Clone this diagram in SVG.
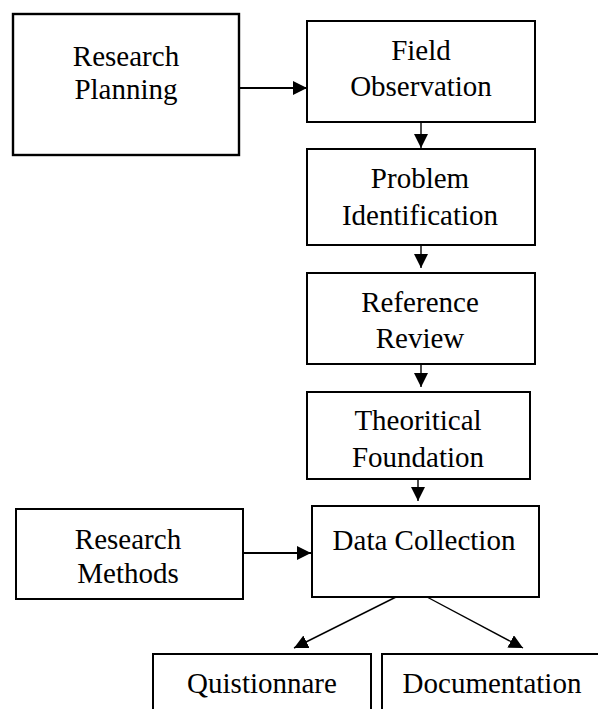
<svg xmlns="http://www.w3.org/2000/svg" width="598" height="709" viewBox="0 0 598 709">
<style>
.box{fill:#fff;stroke:#000;stroke-width:2}
.t{font-family:"Liberation Serif","Times New Roman",serif;font-size:29px;fill:#000;text-anchor:middle}
.c{stroke:#000;stroke-width:1.4;fill:none}
</style>
<defs>
<marker id="ah" markerUnits="userSpaceOnUse" markerWidth="16" markerHeight="14" refX="14" refY="7" orient="auto">
<path d="M0,0 L14,7 L0,14 Z" fill="#000"/>
</marker>
</defs>
<rect width="598" height="709" fill="#fff"/>
<g id="connectors">
<line class="c" x1="239" y1="88" x2="307" y2="88" marker-end="url(#ah)" style="stroke-width:2"/>
<line class="c" x1="421" y1="123" x2="421" y2="148" marker-end="url(#ah)"/>
<line class="c" x1="421" y1="245" x2="421" y2="268" marker-end="url(#ah)"/>
<line class="c" x1="421" y1="364" x2="421" y2="387" marker-end="url(#ah)"/>
<line class="c" x1="418" y1="479" x2="418" y2="501" marker-end="url(#ah)"/>
<line class="c" x1="243" y1="553" x2="311" y2="553" marker-end="url(#ah)" style="stroke-width:2"/>
<line class="c" x1="396" y1="597" x2="294" y2="648" marker-end="url(#ah)"/>
<line class="c" x1="427" y1="597" x2="523" y2="648" marker-end="url(#ah)"/>
</g>
<g id="research-planning">
<rect class="box" x="13" y="14" width="226" height="141" style="stroke-width:2.4"/>
<text class="t" x="126" y="66">Research</text>
<text class="t" x="126" y="99">Planning</text>
</g>
<g id="field-observation">
<rect class="box" x="307" y="21" width="228" height="101"/>
<text class="t" x="421" y="60">Field</text>
<text class="t" x="421" y="96">Observation</text>
</g>
<g id="problem-identification">
<rect class="box" x="307" y="149" width="228" height="96"/>
<text class="t" x="420" y="188">Problem</text>
<text class="t" x="420" y="225">Identification</text>
</g>
<g id="reference-review">
<rect class="box" x="307" y="273" width="228" height="91"/>
<text class="t" x="420" y="312">Reference</text>
<text class="t" x="420" y="348">Review</text>
</g>
<g id="theoritical-foundation">
<rect class="box" x="307" y="392" width="223" height="87"/>
<text class="t" x="418" y="430">Theoritical</text>
<text class="t" x="418" y="467">Foundation</text>
</g>
<g id="data-collection">
<rect class="box" x="312" y="506" width="227" height="91"/>
<text class="t" x="424" y="550">Data Collection</text>
</g>
<g id="research-methods">
<rect class="box" x="16" y="509" width="227" height="90"/>
<text class="t" x="128" y="549">Research</text>
<text class="t" x="128" y="583">Methods</text>
</g>
<g id="quistionnare">
<rect class="box" x="153" y="654" width="218" height="70"/>
<text class="t" x="262" y="693">Quistionnare</text>
</g>
<g id="documentation">
<rect class="box" x="382" y="654" width="230" height="70"/>
<text class="t" x="492" y="693">Documentation</text>
</g>
</svg>
